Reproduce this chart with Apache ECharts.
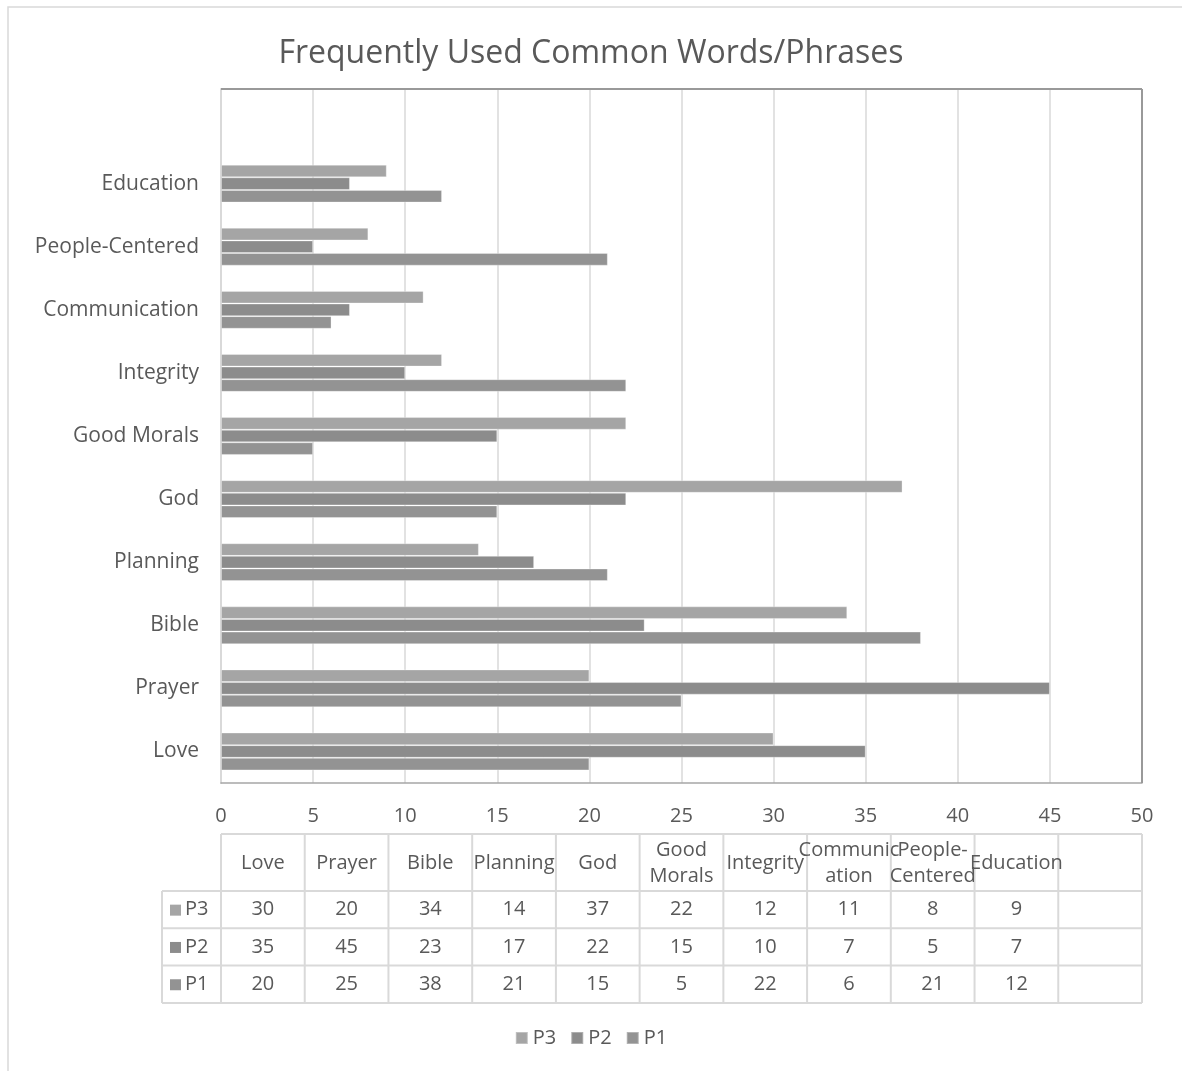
<!DOCTYPE html>
<html>
<head>
<meta charset="utf-8">
<title>Frequently Used Common Words/Phrases</title>
<script src="https://cdn.jsdelivr.net/npm/echarts@6/dist/echarts.min.js"></script>
<style>
html,body{margin:0;padding:0;background:#fff;}
#main{width:1182px;height:1071px;}
</style>
</head>
<body>
<div id="main"></div>
<script>
// categories, bottom to top (last one is empty like the excel sheet)
var categories = ['Love','Prayer','Bible','Planning','God','Good Morals','Integrity','Communication','People-Centered','Education',''];
var tableHeaders = ['Love','Prayer','Bible','Planning','God','Good\nMorals','Integrity','Communic\nation','People-\nCentered','Education',''];
var p3 = [30,20,34,14,37,22,12,11,8,9,null];
var p2 = [35,45,23,17,22,15,10,7,5,7,null];
var p1 = [20,25,38,21,15,5,22,6,21,12,null];
var xTicks = [0,5,10,15,20,25,30,35,40,45,50];

var seriesNames = ['P3','P2','P1'];
var seriesColors = ['#a5a5a5','#8c8c8c','#939393'];
var seriesData = [p3,p2,p1];

var W = 1182, H = 1071;
var gLeft = 221, gRight = 1142, gTop = 89, gBottom = 783;
var txt = '#595959';
var font = 'Open Sans';
var fs = 20;

var myChart = echarts.init(document.getElementById('main'), null, {renderer:'canvas'});

// table under the plot
function buildTable(){
	var els = [];
	var n = categories.length;
	var cw = (gRight - gLeft) / n;
	var tTop = 834, hRow = 57, dRow = 37.3, keyLeft = 162;
	var lineStyle = {stroke:'#d9d9d9', lineWidth:2};
	var rowsBottom = tTop + hRow + dRow*3;
	// horizontal lines
	els.push({type:'line', shape:{x1:gLeft,y1:tTop,x2:gRight,y2:tTop}, style:lineStyle});
	for(var r=0;r<=3;r++){
		var y = tTop + hRow + dRow*r;
		els.push({type:'line', shape:{x1:keyLeft,y1:y,x2:gRight,y2:y}, style:lineStyle});
	}
	// vertical lines
	els.push({type:'line', shape:{x1:keyLeft,y1:tTop+hRow,x2:keyLeft,y2:rowsBottom}, style:lineStyle});
	for(var c=0;c<=n;c++){
		var x = gLeft + cw*c;
		els.push({type:'line', shape:{x1:x,y1:tTop,x2:x,y2:rowsBottom}, style:lineStyle});
	}
	// header text
	for(var i=0;i<n;i++){
		els.push({type:'text', x:gLeft+cw*(i+0.5), y:tTop+hRow/2+1, style:{
			text:tableHeaders[i], fill:txt, font:fs+'px "'+font+'"', align:'center', verticalAlign:'middle', lineHeight:26
		}});
	}
	// data rows
	for(var s=0;s<3;s++){
		var cy = tTop + hRow + dRow*(s+0.5);
		els.push({type:'rect', shape:{x:170,y:cy-5,width:11,height:11}, style:{fill:seriesColors[s]}});
		els.push({type:'text', x:185, y:cy, style:{text:seriesNames[s], fill:txt, font:fs+'px "'+font+'"', align:'left', verticalAlign:'middle'}});
		for(var j=0;j<n;j++){
			var v = seriesData[s][j];
			if(v==null) continue;
			els.push({type:'text', x:gLeft+cw*(j+0.5), y:cy, style:{
				text:String(v), fill:txt, font:fs+'px "'+font+'"', align:'center', verticalAlign:'middle'
			}});
		}
	}
	// plot frame, top and right darker like the original
	els.push({type:'line', shape:{x1:gLeft,y1:gTop,x2:gRight,y2:gTop}, style:{stroke:'#999999',lineWidth:2}, z:10});
	els.push({type:'line', shape:{x1:gRight,y1:gTop,x2:gRight,y2:gBottom}, style:{stroke:'#999999',lineWidth:2}, z:10});
	// outer chart border
	els.push({type:'rect', shape:{x:8,y:7,width:W,height:H}, style:{fill:null,stroke:'#d9d9d9',lineWidth:1.5}, z:-1});
	return els;
}

var series = [];
for(var k=0;k<3;k++){
	series.push({
		name: seriesNames[k],
		type: 'bar',
		data: seriesData[k],
		barGap: '0%',
		barCategoryGap: '40%',
		itemStyle: {color: seriesColors[k], borderColor:'rgba(255,255,255,0.3)', borderWidth:1},
		emphasis: {disabled:true}
	});
}

var option = {
	animation: false,
	title: {
		text: 'Frequently Used Common Words/Phrases',
		left: 'center',
		top: 33,
		textStyle: {color:txt, fontSize:32, fontWeight:'normal', fontFamily:font}
	},
	legend: {
		data: seriesNames,
		bottom: 18,
		left: 'center',
		icon: 'rect',
		itemWidth: 12,
		itemHeight: 12,
		itemGap: 14,
		textStyle: {color:txt, fontSize:fs, fontFamily:font}
	},
	grid: {
		left: gLeft, right: W-gRight, top: gTop, bottom: H-gBottom,
		containLabel: false
	},
	xAxis: {
		type: 'value',
		min: 0, max: 50, interval: 5,
		axisLine: {show:true, lineStyle:{color:'#a6a6a6', width:1.5}},
		axisTick: {show:false},
		axisLabel: {color:txt, fontSize:fs, fontFamily:font, margin:23,
			formatter:function(v){ return xTicks.indexOf(v)>=0 ? String(v) : ''; }},
		splitLine: {show:true, lineStyle:{color:'#d9d9d9', width:1.5}}
	},
	yAxis: {
		type: 'category',
		data: categories,
		axisLine: {show:true, lineStyle:{color:'#d9d9d9', width:2}},
		axisTick: {show:false},
		axisLabel: {color:txt, fontSize:21, fontFamily:font, margin:22, padding:[4,0,0,0]}
	},
	series: series,
	graphic: buildTable()
};

myChart.setOption(option);
</script>
</body>
</html>
